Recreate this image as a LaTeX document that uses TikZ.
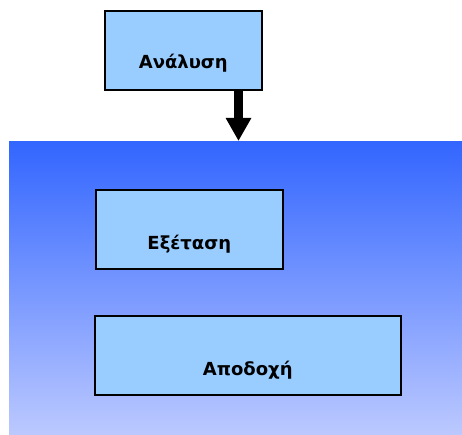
\documentclass[tikz,border=0pt]{standalone}
\usepackage{fontspec}
\setmainfont{DejaVu Sans}
\usetikzlibrary{arrows.meta,calc}

\definecolor{boxblue}{HTML}{99CCFF}
\definecolor{bandtop}{HTML}{3366FF}
\definecolor{bandbottom}{HTML}{BCC9FF}

\tikzset{
  stage/.style={draw=black, line width=1.6pt, fill=boxblue, anchor=north west, inner sep=0pt},
  stagetext/.style={font=\bfseries\fontsize{18}{20}\selectfont},
}

\begin{document}
\begin{tikzpicture}[x=1pt,y=-1pt]
  \useasboundingbox (0,0) rectangle (462,435);

  % shaded band behind the lower boxes
  \shade[top color=bandtop, bottom color=bandbottom] (9,142) rectangle (462,435);

  \node[stage, minimum width=157pt, minimum height=79pt] (ana) at (104,10) {};
  \node[stagetext] (analbl) at ($(ana.center)+(0,13)$) {Ανάλυση};

  \node[stage, minimum width=187pt, minimum height=79pt] (exe) at (95,189) {};
  \node[stagetext] (exelbl) at ($(exe.center)+(0,15)$) {Εξέταση};

  \node[stage, minimum width=306pt, minimum height=79pt] (apo) at (94,315) {};
  \node[stagetext] (apolbl) at ($(apo.center)+(0,15)$) {Αποδοχή};

  % thick arrow into the band
  \coordinate (tip) at (238.5,141);
  \draw[line width=9pt, -{Triangle[width=24pt,length=23pt]}] (ana.south -| tip) -- (tip);
\end{tikzpicture}
\end{document}
